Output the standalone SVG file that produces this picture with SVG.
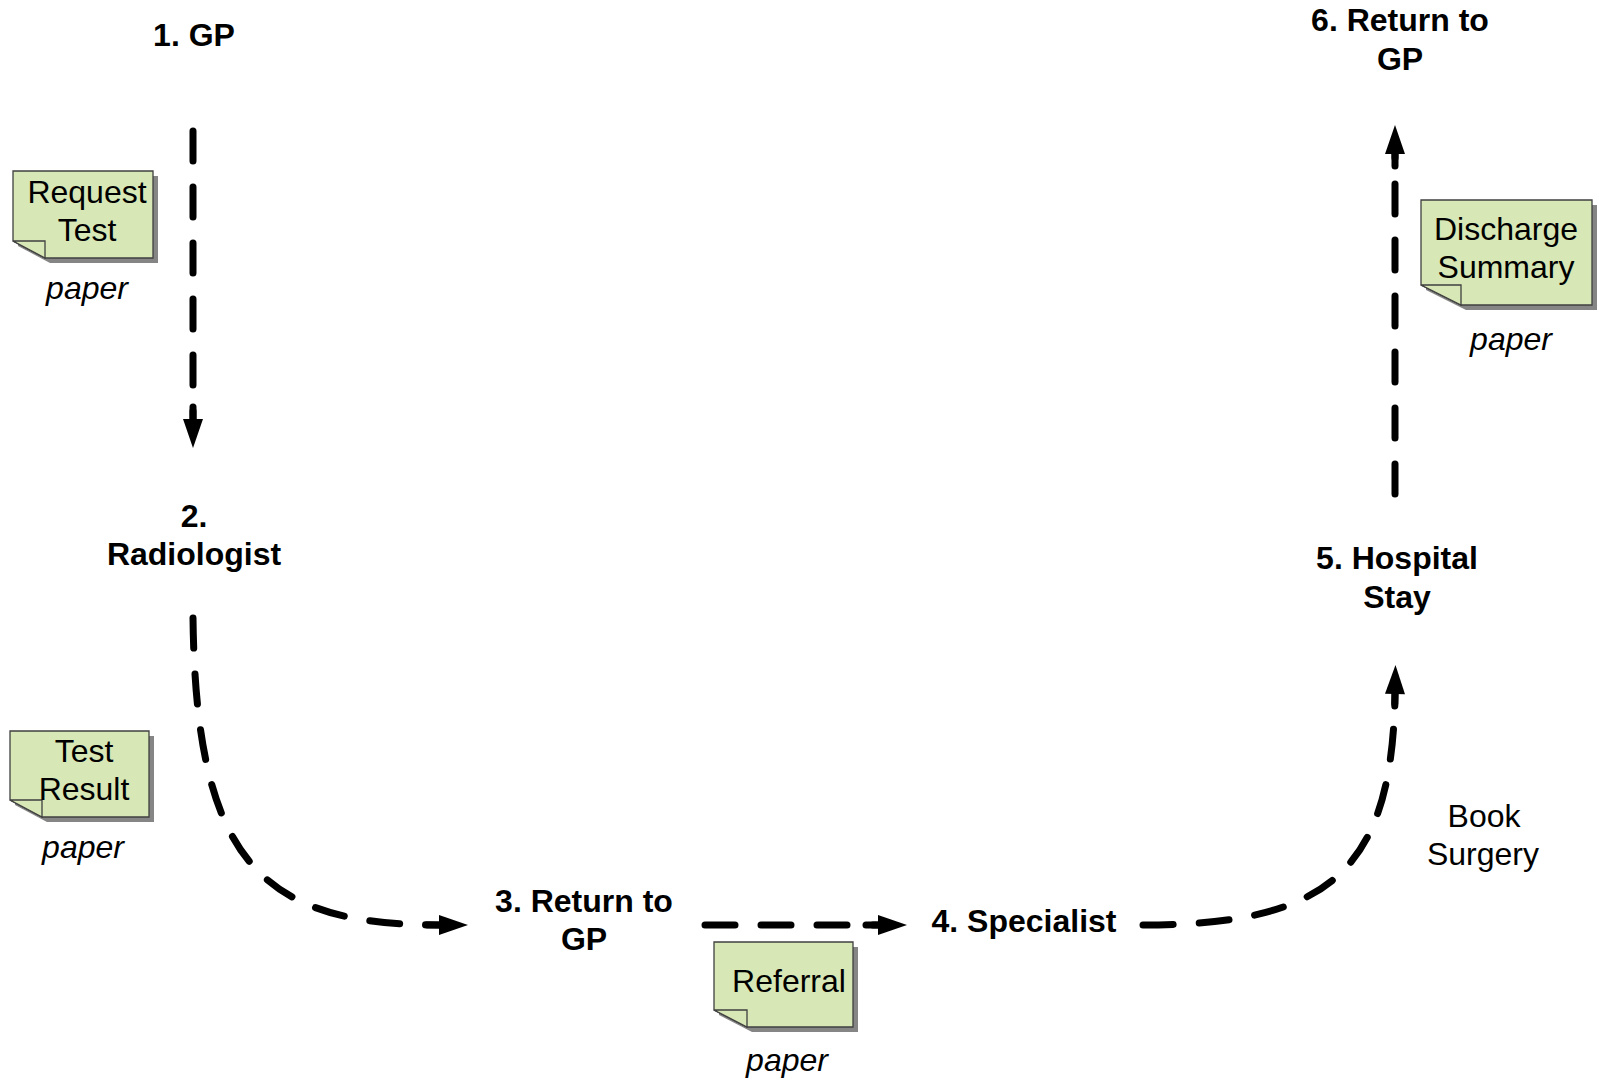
<svg xmlns="http://www.w3.org/2000/svg" width="1599" height="1080" viewBox="0 0 1599 1080">
<style>
.lbl{font-family:"Liberation Sans",Arial,sans-serif;font-size:32px;font-weight:bold;fill:#000;text-anchor:middle}
.txt{font-family:"Liberation Sans",Arial,sans-serif;font-size:32px;fill:#000;text-anchor:middle}
.it{font-family:"Liberation Sans",Arial,sans-serif;font-size:32px;font-style:italic;fill:#000;text-anchor:middle}
.note{fill:#d7e7b5;stroke:#404040;stroke-width:1.3}
.shadow{fill:#858585}
.fold{fill:#d7e7b5;stroke:#404040;stroke-width:1.3}
.conn{fill:none;stroke:#000;stroke-width:7;stroke-dasharray:30 26;stroke-linecap:round}
</style>
<defs>
<marker id="arr" markerUnits="userSpaceOnUse" viewBox="-16 -12 48 24" refX="0" refY="0" markerWidth="48" markerHeight="24" orient="auto">
<line x1="-12" y1="0" x2="2" y2="0" stroke="#000" stroke-width="7" stroke-linecap="round"/>
<polygon points="0,-10 29,0 0,10" fill="#000"/>
</marker>
</defs>
<rect width="1599" height="1080" fill="#fff"/>

<g id="connectors">
<path id="c1" class="conn" d="M193,131 L193,419" marker-end="url(#arr)"/>
<path id="c2" class="conn" d="M193,618 C196,860 260,925 439,925" marker-end="url(#arr)"/>
<path id="c3" class="conn" d="M705,925 L878,925" marker-end="url(#arr)"/>
<path id="c4" class="conn" d="M1143,925 C1330,925 1392,870 1395,694" marker-end="url(#arr)"/>
<path id="c5" class="conn" d="M1395,494 L1395,154" marker-end="url(#arr)"/>
</g>

<g id="n1"><text class="lbl" x="194" y="46">1. GP</text></g>
<g id="n2"><text class="lbl" x="194" y="527">2.</text><text class="lbl" x="194" y="565">Radiologist</text></g>
<g id="n3"><text class="lbl" x="584" y="912">3. Return to</text><text class="lbl" x="584" y="950">GP</text></g>
<g id="n4"><text class="lbl" x="1024" y="932">4. Specialist</text></g>
<g id="n5"><text class="lbl" x="1397" y="569">5. Hospital</text><text class="lbl" x="1397" y="608">Stay</text></g>
<g id="n6"><text class="lbl" x="1400" y="31">6. Return to</text><text class="lbl" x="1400" y="70">GP</text></g>
<g id="bookSurgery"><text class="txt" x="1484" y="827">Book</text><text class="txt" x="1483" y="865">Surgery</text></g>

<g id="noteRequest">
<polygon class="shadow" points="18,176 158,176 158,263 50,263 18,246"/>
<polygon class="note" points="13,171 153,171 153,258 45,258 13,241"/>
<polygon class="fold" points="13,241 45,241 45,258"/>
<text class="txt" x="87" y="203">Request</text>
<text class="txt" x="87" y="241">Test</text>
<text class="it" x="87" y="299">paper</text>
</g>

<g id="noteResult">
<polygon class="shadow" points="15,736 154,736 154,822 47,822 15,805"/>
<polygon class="note" points="10,731 149,731 149,817 42,817 10,800"/>
<polygon class="fold" points="10,800 42,800 42,817"/>
<text class="txt" x="84" y="762">Test</text>
<text class="txt" x="84" y="800">Result</text>
<text class="it" x="83" y="858">paper</text>
</g>

<g id="noteReferral">
<polygon class="shadow" points="719,947 858,947 858,1032 752,1032 719,1015"/>
<polygon class="note" points="714,942 853,942 853,1027 747,1027 714,1010"/>
<polygon class="fold" points="714,1010 747,1010 747,1027"/>
<text class="txt" x="789" y="992">Referral</text>
<text class="it" x="787" y="1071">paper</text>
</g>

<g id="noteDischarge">
<polygon class="shadow" points="1426,205 1597,205 1597,310 1466,310 1426,290"/>
<polygon class="note" points="1421,200 1592,200 1592,305 1461,305 1421,285"/>
<polygon class="fold" points="1421,285 1461,285 1461,305"/>
<text class="txt" x="1506" y="240">Discharge</text>
<text class="txt" x="1506" y="278">Summary</text>
<text class="it" x="1511" y="350">paper</text>
</g>
</svg>
